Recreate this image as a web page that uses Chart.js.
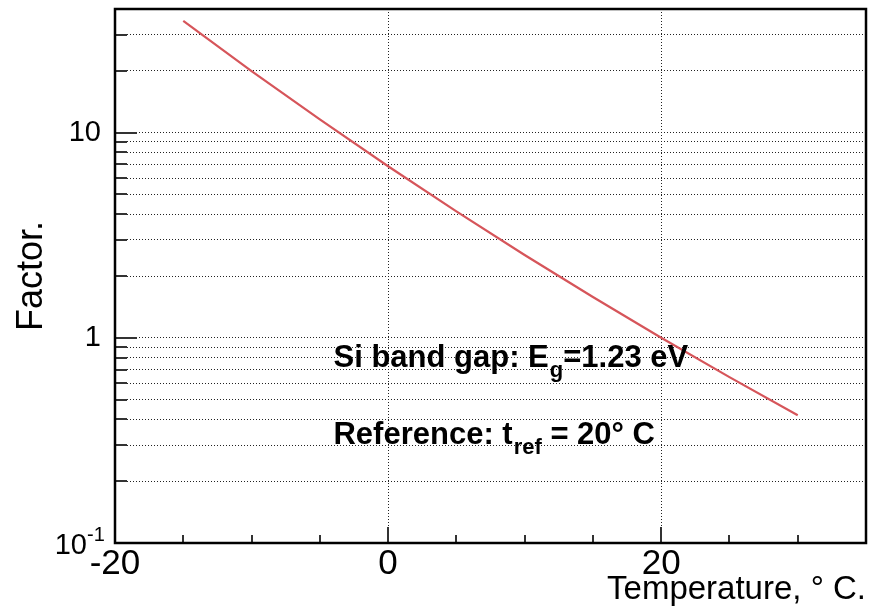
<!DOCTYPE html>
<html>
<head>
<meta charset="utf-8">
<script src="https://cdn.jsdelivr.net/npm/chart.js@4.4.1/dist/chart.umd.min.js"></script>
<style>
  html, body { margin: 0; padding: 0; background: #fff; }
  canvas { display: block; }
</style>
</head>
<body>
<canvas id="chart-factor" width="881" height="610"></canvas>
<script>
// --- DATA ---
const temperature = [-15, -10, -5, 0, 5, 10, 15, 20, 25, 30];
const factor = [35.0, 19.9, 11.6, 6.85, 4.13, 2.53, 1.58, 1.0, 0.643, 0.419];

const xTicks = [-20, -15, -10, -5, 0, 5, 10, 15, 20, 25, 30, 35];
const xMajor = [-20, 0, 20];
const yTicks = [0.1, 0.2, 0.3, 0.4, 0.5, 0.6, 0.7, 0.8, 0.9,
                1, 2, 3, 4, 5, 6, 7, 8, 9, 10, 20, 30, 40];
const yMajor = [0.1, 1, 10];
const yLabels = [1, 10];

const notes = [
    { x: -4, y: 0.72, pre: 'Si band gap: E', sub: 'g', post: '=1.23 eV' },
    { x: -4, y: 0.303, pre: 'Reference: t', sub: 'ref', post: ' = 20\u00b0 C' }
];

const FONT = '"Liberation Sans", Arial, Helvetica, sans-serif';
const lineRed = '#d6555a';

// frame, inside ticks, 10^-1 label and text notes
const rootFrame = {
    id: 'rootFrame',
    afterDraw(chart) {
        const { ctx, chartArea: a, scales: { x, y } } = chart;
        ctx.save();

        // y ticks (inside, from left border)
        ctx.strokeStyle = '#333';
        ctx.lineWidth = 2;
        yTicks.forEach(v => {
            if (v === 0.1 || v === 40) return;
            const py = Math.round(y.getPixelForValue(v));
            const len = yMajor.includes(v) ? 22 : 12;
            ctx.beginPath();
            ctx.moveTo(a.left, py);
            ctx.lineTo(a.left + len, py);
            ctx.stroke();
        });

        // x ticks (inside, up from bottom border)
        xTicks.forEach(v => {
            if (v === -20 || v === 35) return;
            const px = Math.round(x.getPixelForValue(v));
            const len = xMajor.includes(v) ? 16 : 8;
            ctx.beginPath();
            ctx.moveTo(px, a.bottom);
            ctx.lineTo(px, a.bottom - len);
            ctx.stroke();
        });

        // frame
        ctx.strokeStyle = '#000';
        ctx.lineWidth = 2.5;
        ctx.strokeRect(a.left, a.top, a.right - a.left, a.bottom - a.top);

        // 10^-1 label
        const p01 = y.getPixelForValue(0.1);
        ctx.fillStyle = '#000';
        ctx.textBaseline = 'middle';
        ctx.textAlign = 'right';
        ctx.font = '29px ' + FONT;
        ctx.fillText('10', 87, p01 + 3);
        ctx.textAlign = 'left';
        ctx.font = '20px ' + FONT;
        ctx.fillText('-1', 87, p01 - 8);

        // notes
        ctx.textBaseline = 'alphabetic';
        notes.forEach(n => {
            let px = x.getPixelForValue(n.x);
            const py = y.getPixelForValue(n.y);
            ctx.font = 'bold 31px ' + FONT;
            ctx.fillText(n.pre, px, py);
            px += ctx.measureText(n.pre).width;
            ctx.font = 'bold 22px ' + FONT;
            ctx.fillText(n.sub, px + 1, py + 10);
            px += ctx.measureText(n.sub).width + 1;
            ctx.font = 'bold 31px ' + FONT;
            ctx.fillText(n.post, px, py);
        });

        ctx.restore();
    }
};

const ctx = document.getElementById('chart-factor');
window.factorChart = new Chart(ctx, {
    type: 'line',
    data: {
        datasets: [{
            data: temperature.map((t, i) => ({ x: t, y: factor[i] })),
            borderColor: lineRed,
            borderWidth: 2.2,
            pointRadius: 0,
            tension: 0,
            fill: false
        }]
    },
    options: {
        responsive: false,
        animation: false,
        devicePixelRatio: 1,
        layout: { padding: { top: 9, right: 15, left: 0, bottom: 0 } },
        plugins: { legend: { display: false }, tooltip: { enabled: false } },
        scales: {
            x: {
                type: 'linear',
                min: -20,
                max: 35,
                afterBuildTicks: s => { s.ticks = xTicks.map(v => ({ value: v })); },
                afterFit: s => { s.height = 67; s.paddingLeft = 0; s.paddingRight = 0; },
                ticks: {
                    autoSkip: false,
                    maxRotation: 0,
                    padding: 0,
                    color: '#000',
                    font: { family: FONT, size: 35 },
                    callback: v => xMajor.includes(v) ? String(v) : ''
                },
                grid: {
                    drawTicks: false,
                    lineWidth: 1,
                    color: c => (c.tick && (c.tick.value === 0 || c.tick.value === 20)) ? '#222' : 'rgba(0,0,0,0)'
                },
                border: { display: false, dash: [1, 2] },
                title: {
                    display: true,
                    text: 'Temperature, \u00b0 C.',
                    align: 'end',
                    color: '#000',
                    padding: { top: 0, bottom: 0 },
                    font: { family: FONT, size: 33 }
                }
            },
            y: {
                type: 'logarithmic',
                min: 0.1,
                max: 40,
                afterBuildTicks: s => { s.ticks = yTicks.map(v => ({ value: v })); },
                afterFit: s => { s.width = 115; s.paddingTop = 0; s.paddingBottom = 0; },
                ticks: {
                    autoSkip: false,
                    padding: 14,
                    color: '#000',
                    font: { family: FONT, size: 29 },
                    callback: v => yLabels.includes(v) ? String(v) : ''
                },
                grid: {
                    drawTicks: false,
                    lineWidth: 1,
                    color: c => (c.tick && c.tick.value > 0.1 && c.tick.value < 40) ? '#222' : 'rgba(0,0,0,0)'
                },
                border: { display: false, dash: [1, 2] },
                title: {
                    display: true,
                    text: 'Factor.',
                    color: '#000',
                    padding: { top: 10, bottom: 0 },
                    font: { family: FONT, size: 36 }
                }
            }
        }
    },
    plugins: [rootFrame]
});
</script>
</body>
</html>
